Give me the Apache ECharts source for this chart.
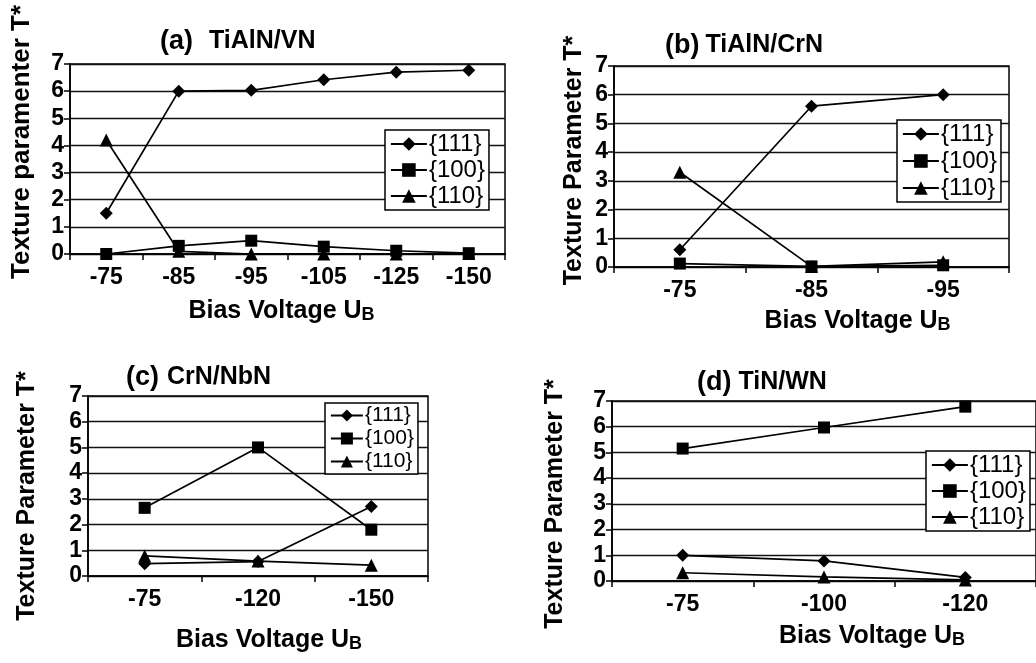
<!DOCTYPE html>
<html>
<head>
<meta charset="utf-8">
<script src="https://cdn.jsdelivr.net/npm/echarts@6/dist/echarts.min.js"></script>
<style>
html,body{margin:0;padding:0;background:#fff;}
#chart{width:1036px;height:663px;}
</style>
</head>
<body>
<div id="chart"></div>
<script>
// ---- data ----
const seriesNames = ['{111}', '{100}', '{110}'];
const yTicks = [0, 1, 2, 3, 4, 5, 6, 7];

const catA = ['-75', '-85', '-95', '-105', '-125', '-150'];
const a111 = [1.5, 6.0, 6.03, 6.42, 6.70, 6.77];
const a100 = [0.0, 0.3, 0.49, 0.27, 0.12, 0.03];
const a110 = [4.2, 0.1, 0.0, 0.0, 0.0, 0.02];

const catB = ['-75', '-85', '-95'];
const b111 = [0.6, 5.6, 6.0];
const b100 = [0.12, 0.02, 0.06];
const b110 = [3.3, 0.02, 0.18];

const catC = ['-75', '-120', '-150'];
const c111 = [0.48, 0.56, 2.7];
const c100 = [2.65, 5.0, 1.8];
const c110 = [0.78, 0.58, 0.42];

const catD = ['-75', '-100', '-120'];
const d111 = [1.0, 0.78, 0.14];
const d100 = [5.15, 5.97, 6.78];
const d110 = [0.32, 0.16, 0.04];

const panelTitles = [['(a)', 'TiAlN/VN'], ['(b)', 'TiAlN/CrN'], ['(c)', 'CrN/NbN'], ['(d)', 'TiN/WN']];
const yNames = ['Texture paramenter T*', 'Texture Parameter T*', 'Texture Parameter T*', 'Texture Parameter T*'];
const xNameMain = 'Bias Voltage U';
const xNameSub = 'B';

// ---- layout / style ----
const FONT = "'Liberation Sans', Arial, sans-serif";
const panels = [
  {cats: catA, s: [a111, a100, a110], grid: {left: 70, right: 531, top: 64, bottom: 409},
   title: {left: 160, top: 28, gap: 16}, yGap: 35, yPad: [0, 0, 0, 34], yFont: 26,
   xGap: 45, xPad: [0, 12, 0, 0], legend: {left: 385, top: 130, font: 24, gap: 2, iw: 36, ih: 17}},
  {cats: catB, s: [b111, b100, b110], grid: {left: 614, right: 27, top: 66, bottom: 396},
   title: {left: 665, top: 32, gap: 6}, yGap: 27, yPad: [0, 0, 0, 12], yFont: 25,
   xGap: 42, xPad: [0, 0, 0, 92], legend: {left: 897, top: 120, font: 24, gap: 3, iw: 36, ih: 17}},
  {cats: catC, s: [c111, c100, c110], grid: {left: 88, right: 608, top: 396, bottom: 80},
   title: {left: 126, top: 364, gap: 8}, yGap: 48, yPad: [0, 20, 0, 0], yFont: 25,
   xGap: 52, xPad: [0, 0, 0, 22], legend: {left: 325, top: 403, font: 21, gap: 2, iw: 32, ih: 15}},
  {cats: catD, s: [d111, d100, d110], grid: {left: 612, right: -6, top: 401, bottom: 82},
   title: {left: 697, top: 369, gap: 7}, yGap: 44, yPad: [0, 26, 0, 0], yFont: 25,
   xGap: 43, xPad: [0, 0, 0, 96], legend: {left: 926, top: 451, font: 24, gap: 2, iw: 36, ih: 17}}
];
const symbols = ['diamond', 'rect', 'triangle'];
const symSizes = [13, 12, 13];

const option = {
  animation: false,
  backgroundColor: '#fff',
  textStyle: {fontFamily: FONT, color: '#000'},
  title: [], grid: [], xAxis: [], yAxis: [], legend: [], series: []
};

panels.forEach((p, i) => {
  option.title.push({
    left: p.title.left, top: p.title.top, padding: 0,
    text: '{p|' + panelTitles[i][0] + '}{t|' + panelTitles[i][1] + '}',
    textStyle: {rich: {
      p: {fontSize: 27, fontWeight: 'bold', fontFamily: FONT, color: '#000', padding: [0, p.title.gap, 0, 0]},
      t: {fontSize: 25, fontWeight: 'bold', fontFamily: FONT, color: '#000'}
    }}
  });
  option.grid.push(Object.assign({show: true, borderColor: '#000', borderWidth: 1.5, containLabel: false}, p.grid));
  option.xAxis.push({
    type: 'category', gridIndex: i, data: p.cats, boundaryGap: true,
    axisLine: {lineStyle: {color: '#000', width: 1.6}},
    axisTick: {show: true, length: 6, lineStyle: {color: '#000', width: 1.5}},
    axisLabel: {fontSize: 23, fontWeight: 'bold', color: '#000', fontFamily: FONT, margin: 12},
    name: '{a|' + xNameMain + '}{b|' + xNameSub + '}',
    nameLocation: 'middle', nameGap: p.xGap,
    nameTextStyle: {padding: p.xPad, rich: {
      a: {fontSize: 25, fontWeight: 'bold', fontFamily: FONT, color: '#000', lineHeight: 25, verticalAlign: 'top', padding: [0, 0, 9, 0]},
      b: {fontSize: 18, fontWeight: 'bold', fontFamily: FONT, color: '#000', lineHeight: 18, verticalAlign: 'bottom'}
    }}
  });
  option.yAxis.push({
    type: 'value', gridIndex: i, min: yTicks[0], max: yTicks[yTicks.length - 1], interval: 1,
    axisLine: {show: true, lineStyle: {color: '#000', width: 1.6}},
    axisTick: {show: true, length: 6, lineStyle: {color: '#000', width: 1.5}},
    axisLabel: {fontSize: 23, fontWeight: 'bold', color: '#000', fontFamily: FONT, margin: 6},
    splitLine: {show: true, lineStyle: {color: '#111', width: 1.3}},
    name: yNames[i], nameLocation: 'middle', nameGap: p.yGap,
    nameTextStyle: {fontSize: p.yFont, fontWeight: 'bold', color: '#000', fontFamily: FONT, padding: p.yPad}
  });
  option.legend.push({
    left: p.legend.left, top: p.legend.top, orient: 'vertical',
    data: seriesNames,
    backgroundColor: '#fff', borderColor: '#000', borderWidth: 1.5, borderRadius: 0,
    padding: [2, 4, 2, 5], itemGap: p.legend.gap, itemWidth: p.legend.iw, itemHeight: p.legend.ih,
    selectedMode: false,
    itemStyle: {color: '#000'},
    lineStyle: {color: '#000', width: 1.8},
    textStyle: {fontSize: p.legend.font, lineHeight: p.legend.font, color: '#000', fontFamily: FONT, padding: [0, 0, 0, -3]}
  });
  seriesNames.forEach((n, k) => {
    option.series.push({
      type: 'line', name: n, xAxisIndex: i, yAxisIndex: i, data: p.s[k],
      symbol: symbols[k], symbolSize: symSizes[k], showAllSymbol: true,
      lineStyle: {color: '#000', width: 1.7}, itemStyle: {color: '#000'},
      z: 3 + k
    });
  });
});

const chart = echarts.init(document.getElementById('chart'), null, {renderer: 'canvas'});
chart.setOption(option);
</script>
</body>
</html>
